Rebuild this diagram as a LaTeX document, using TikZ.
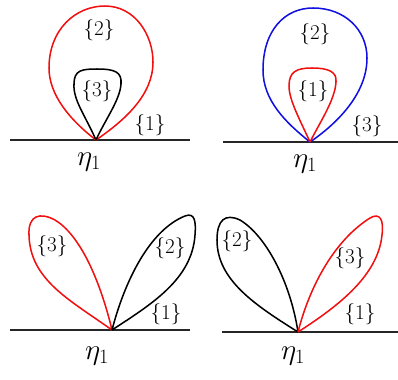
\documentclass[tikz,border=0pt]{standalone}
\usepackage{tikz}
\usetikzlibrary{positioning}
\definecolor{loopred}{HTML}{F01010}
\definecolor{loopblue}{HTML}{1010E0}

\begin{document}
\begin{tikzpicture}[x=0.03cm,y=-0.03cm,
  base/.style={line width=1.5pt,color=black!85},
  lp/.style={line width=1.3pt,color=#1},
  lp/.default=black,
  lbl/.style={font=\fontsize{18}{20}\selectfont,inner sep=0pt},
  eta/.style={font=\fontsize{27}{30}\selectfont,inner sep=0pt}]
\useasboundingbox (0,0) rectangle (398,379);
% Top left
\coordinate (tA) at (96,140);
\coordinate (lA) at (10,140);
\coordinate (rA) at (190,140);
\draw[base] (lA) -- (rA);
\draw[lp=loopred] (tA) .. controls (70,120) and (49,95) .. (49,68)
  .. controls (49,30) and (75,6) .. (105,6)
  .. controls (135,6) and (153,35) .. (153,62)
  .. controls (153,95) and (125,120) .. (tA);
\draw[lp] (tA) .. controls (85,115) and (73,100) .. (74,84)
  .. controls (74,70) and (82,69) .. (97,69)
  .. controls (115,69) and (122,72) .. (121,84)
  .. controls (120,100) and (105,120) .. (tA);
\node[lbl] (a2) at (99,30) {\{2\}};
\node[lbl] (a3) at (97,91) {\{3\}};
\node[lbl] (a1) at (150,125) {\{1\}};
\node[eta] (aeta) at (89,162) {$\eta_1$};
% Top right
\coordinate (tB) at (310,142);
\coordinate (lB) at (223,142);
\coordinate (rB) at (398,142);
\draw[base] (lB) -- (rB);
\draw[lp=loopblue] (tB) .. controls (285,122) and (263,100) .. (263,70)
  .. controls (263,30) and (285,8) .. (313,8)
  .. controls (345,8) and (367,30) .. (367,58)
  .. controls (367,95) and (335,125) .. (tB);
\draw[lp=loopred] (tB) .. controls (300,120) and (289,100) .. (289,86)
  .. controls (289,72) and (296,68) .. (312,68)
  .. controls (329,68) and (337,72) .. (336,82)
  .. controls (335,100) and (320,122) .. (tB);
\node[lbl] (b2) at (315,34) {\{2\}};
\node[lbl] (b1) at (313,91) {\{1\}};
\node[lbl] (b3) at (367,126) {\{3\}};
\node[eta] (beta) at (305,164) {$\eta_1$};
% Bottom left
\coordinate (tC) at (112,330);
\coordinate (lC) at (10,330);
\coordinate (rC) at (190,330);
\draw[base] (lC) -- (rC);
\draw[lp=loopred] (tC) .. controls (70,300) and (30,280) .. (29,235)
  .. controls (28,215) and (40,212) .. (55,220)
  .. controls (80,235) and (100,280) .. (tC);
\draw[lp] (tC) .. controls (125,280) and (150,230) .. (185,216)
  .. controls (195,212) and (196,222) .. (195,235)
  .. controls (192,280) and (150,305) .. (tC);
\node[lbl] (c3) at (52,246) {\{3\}};
\node[lbl] (c2) at (170,248) {\{2\}};
\node[lbl] (c1) at (166,314) {\{1\}};
\node[eta] (ceta) at (97,356) {$\eta_1$};
% Bottom right
\coordinate (tD) at (298,332);
\coordinate (lD) at (222,332);
\coordinate (rD) at (398,332);
\draw[base] (lD) -- (rD);
\draw[lp] (tD) .. controls (255,305) and (217,280) .. (217,240)
  .. controls (217,220) and (225,213) .. (240,220)
  .. controls (265,235) and (290,280) .. (tD);
\draw[lp=loopred] (tD) .. controls (310,285) and (335,240) .. (370,218)
  .. controls (380,212) and (384,220) .. (382,235)
  .. controls (378,275) and (340,305) .. (tD);
\node[lbl] (d2) at (237,241) {\{2\}};
\node[lbl] (d3) at (350,258) {\{3\}};
\node[lbl] (d1) at (360,314) {\{1\}};
\node[eta] (deta) at (293,356) {$\eta_1$};
\end{tikzpicture}
\end{document}
